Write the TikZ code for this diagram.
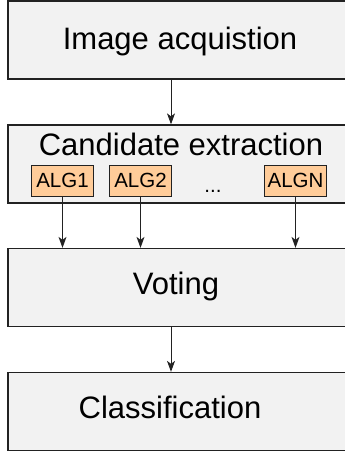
\documentclass[tikz,border=0pt]{standalone}
\usepackage{fontspec}
\setmainfont{Liberation Sans}
\usetikzlibrary{arrows.meta}

\definecolor{boxgray}{HTML}{F2F2F2}
\definecolor{algpeach}{HTML}{FFCC99}
\definecolor{edgegray}{HTML}{222222}

\begin{document}
\begin{tikzpicture}[x=1pt,y=-1pt,
	blk/.style={draw=edgegray,fill=boxgray,line width=1.3pt,minimum width=342pt,minimum height=78pt,inner sep=0pt},
	alg/.style={draw=edgegray,fill=algpeach,line width=1pt,minimum width=62pt,minimum height=31pt,inner sep=0pt,font=\fontsize{20.5}{24}\selectfont},
	big/.style={anchor=base,inner sep=0pt,font=\fontsize{31}{36}\selectfont},
	arr/.style={draw=edgegray,line width=1pt,-{Stealth[length=11pt,width=8pt,inset=3pt]}}]

	\useasboundingbox (0,0) rectangle (345,452);
	\clip (0,0) rectangle (345,452);

	\coordinate (mid) at (171,0);

	\node[blk] (acq) at (179,40) {};
	\node[blk] (cand) at (179,164) {};
	\node[blk] (vote) at (179,287.5) {};
	\node[blk] (cls) at (179,411.5) {};

	\node[big] (acqtxt) at (180,49) {Image acquistion};
	\node[big] (candtxt) at (181,155) {Candidate extraction};
	\node[big] (votetxt) at (176,294) {Voting};
	\node[big] (clstxt) at (170,418) {Classification};

	\node[alg] (alg1) at (62.5,180.5) {ALG1};
	\node[alg] (alg2) at (140.5,180.5) {ALG2};
	\node[alg] (algn) at (295.5,180.5) {ALGN};
	\node[anchor=base,inner sep=0pt,font=\fontsize{20.5}{24}\selectfont] (dots) at (213,192) {...};

	\draw[arr] (acq.south -| mid) -- (cand.north -| mid);
	\draw[arr] (alg1.south) -- (alg1 |- vote.north);
	\draw[arr] (alg2.south) -- (alg2 |- vote.north);
	\draw[arr] (algn.south) -- (algn |- vote.north);
	\draw[arr] (vote.south -| mid) -- (cls.north -| mid);

\end{tikzpicture}
\end{document}
